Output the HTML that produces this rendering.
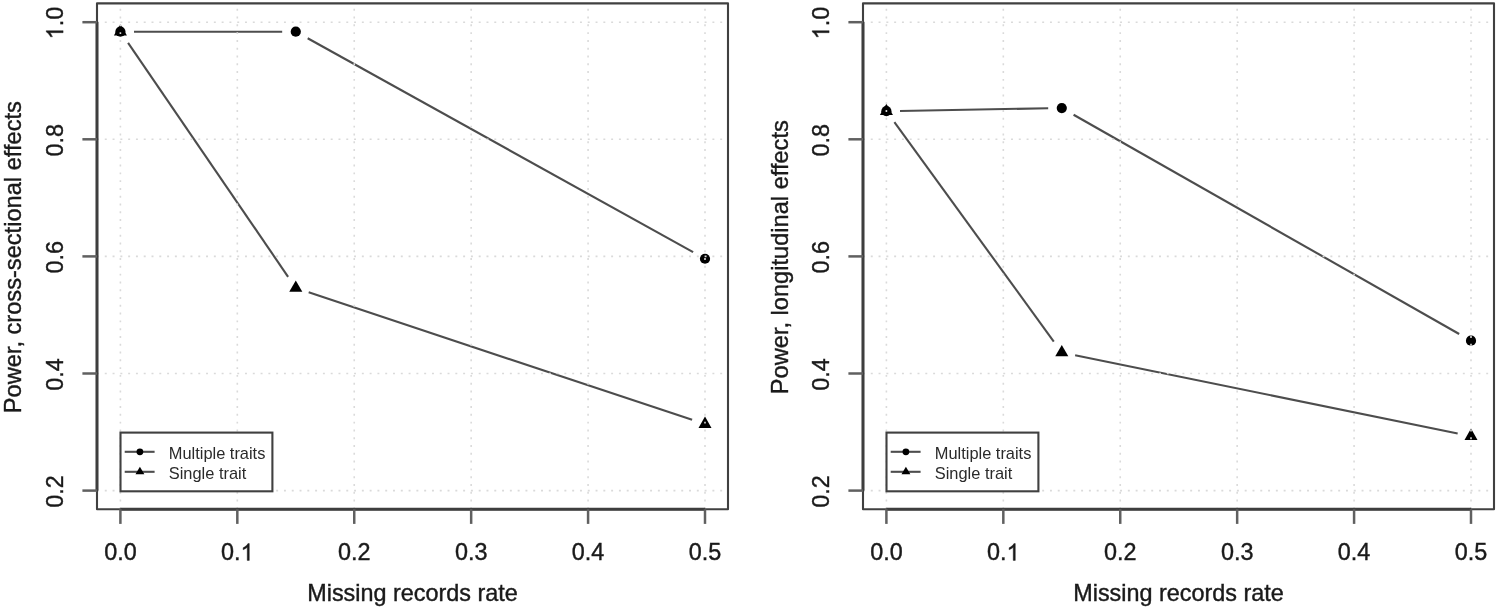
<!DOCTYPE html>
<html><head><meta charset="utf-8"><style>
html,body{margin:0;padding:0;background:#fff;width:1498px;height:610px;overflow:hidden}
svg{display:block;filter:grayscale(100%)}
text{font-family:"Liberation Sans",sans-serif;font-size:23.4px;fill:#1a1a1a;stroke:#1a1a1a;stroke-width:0.4px}
</style></head><body>
<svg width="1498" height="610" viewBox="0 0 1498 610">
<rect width="1498" height="610" fill="#fff"/>
<line x1="134.00" y1="31.69" x2="282.18" y2="31.69" stroke="#4d4d4d" stroke-width="2.1"/>
<line x1="307.67" y1="38.28" x2="693.11" y2="252.14" stroke="#4d4d4d" stroke-width="2.1"/>
<line x1="128.08" y1="42.91" x2="288.10" y2="276.79" stroke="#4d4d4d" stroke-width="2.1"/>
<line x1="308.68" y1="292.31" x2="692.10" y2="419.85" stroke="#4d4d4d" stroke-width="2.1"/>
<circle cx="120.40" cy="31.69" r="5.10" fill="#000"/>
<circle cx="295.78" cy="31.69" r="5.10" fill="#000"/>
<circle cx="705.00" cy="258.74" r="5.10" fill="#000"/>
<path d="M120.40,24.14L126.93,35.46L113.87,35.46Z" fill="#000"/>
<path d="M295.78,280.47L302.31,291.79L289.25,291.79Z" fill="#000"/>
<path d="M705.00,416.60L711.53,427.92L698.47,427.92Z" fill="#000"/>
<line x1="120.40" y1="509.30" x2="120.40" y2="3.35" stroke="#dadada" stroke-width="1.6" stroke-dasharray="1.95 5.84"/>
<line x1="237.32" y1="509.30" x2="237.32" y2="3.35" stroke="#dadada" stroke-width="1.6" stroke-dasharray="1.95 5.84"/>
<line x1="354.24" y1="509.30" x2="354.24" y2="3.35" stroke="#dadada" stroke-width="1.6" stroke-dasharray="1.95 5.84"/>
<line x1="471.16" y1="509.30" x2="471.16" y2="3.35" stroke="#dadada" stroke-width="1.6" stroke-dasharray="1.95 5.84"/>
<line x1="588.08" y1="509.30" x2="588.08" y2="3.35" stroke="#dadada" stroke-width="1.6" stroke-dasharray="1.95 5.84"/>
<line x1="705.00" y1="509.30" x2="705.00" y2="3.35" stroke="#dadada" stroke-width="1.6" stroke-dasharray="1.95 5.84"/>
<line x1="97.00" y1="490.60" x2="728.00" y2="490.60" stroke="#dadada" stroke-width="1.6" stroke-dasharray="1.95 5.84"/>
<line x1="97.00" y1="373.50" x2="728.00" y2="373.50" stroke="#dadada" stroke-width="1.6" stroke-dasharray="1.95 5.84"/>
<line x1="97.00" y1="256.40" x2="728.00" y2="256.40" stroke="#dadada" stroke-width="1.6" stroke-dasharray="1.95 5.84"/>
<line x1="97.00" y1="139.30" x2="728.00" y2="139.30" stroke="#dadada" stroke-width="1.6" stroke-dasharray="1.95 5.84"/>
<line x1="97.00" y1="22.20" x2="728.00" y2="22.20" stroke="#dadada" stroke-width="1.6" stroke-dasharray="1.95 5.84"/>
<rect x="97.00" y="3.35" width="631.00" height="505.95" fill="none" stroke-linejoin="round" stroke="#404040" stroke-width="2.1"/>
<line x1="120.40" y1="509.30" x2="705.00" y2="509.30" stroke="#3e3e3e" stroke-width="3.0"/>
<line x1="120.40" y1="509.30" x2="120.40" y2="523.90" stroke="#606060" stroke-width="2.5"/>
<g transform="translate(120.40,560.4)"><text x="-16.26" y="0">0.0</text></g>
<line x1="237.32" y1="509.30" x2="237.32" y2="523.90" stroke="#606060" stroke-width="2.5"/>
<g transform="translate(237.32,560.4)"><text x="-16.26" y="0">0.</text><path d="M763,0L583,0L583,1147Q518,1085 412,1023Q307,961 223,930L223,1104Q374,1175 487,1276Q600,1377 647,1472L763,1472Z" transform="translate(3.25,0) scale(0.01143,-0.01143)" fill="#1a1a1a" stroke="#1a1a1a" stroke-width="35.01"/></g>
<line x1="354.24" y1="509.30" x2="354.24" y2="523.90" stroke="#606060" stroke-width="2.5"/>
<g transform="translate(354.24,560.4)"><text x="-16.26" y="0">0.2</text></g>
<line x1="471.16" y1="509.30" x2="471.16" y2="523.90" stroke="#606060" stroke-width="2.5"/>
<g transform="translate(471.16,560.4)"><text x="-16.26" y="0">0.3</text></g>
<line x1="588.08" y1="509.30" x2="588.08" y2="523.90" stroke="#606060" stroke-width="2.5"/>
<g transform="translate(588.08,560.4)"><text x="-16.26" y="0">0.4</text></g>
<line x1="705.00" y1="509.30" x2="705.00" y2="523.90" stroke="#606060" stroke-width="2.5"/>
<g transform="translate(705.00,560.4)"><text x="-16.26" y="0">0.5</text></g>
<line x1="97.00" y1="490.60" x2="97.00" y2="22.20" stroke="#3e3e3e" stroke-width="3.0"/>
<line x1="97.00" y1="490.60" x2="82.40" y2="490.60" stroke="#606060" stroke-width="2.5"/>
<g transform="translate(63.10,491.50) rotate(-90)"><text x="-16.26" y="0">0.2</text></g>
<line x1="97.00" y1="373.50" x2="82.40" y2="373.50" stroke="#606060" stroke-width="2.5"/>
<g transform="translate(63.10,374.40) rotate(-90)"><text x="-16.26" y="0">0.4</text></g>
<line x1="97.00" y1="256.40" x2="82.40" y2="256.40" stroke="#606060" stroke-width="2.5"/>
<g transform="translate(63.10,257.30) rotate(-90)"><text x="-16.26" y="0">0.6</text></g>
<line x1="97.00" y1="139.30" x2="82.40" y2="139.30" stroke="#606060" stroke-width="2.5"/>
<g transform="translate(63.10,140.20) rotate(-90)"><text x="-16.26" y="0">0.8</text></g>
<line x1="97.00" y1="22.20" x2="82.40" y2="22.20" stroke="#606060" stroke-width="2.5"/>
<g transform="translate(63.10,23.10) rotate(-90)"><path d="M763,0L583,0L583,1147Q518,1085 412,1023Q307,961 223,930L223,1104Q374,1175 487,1276Q600,1377 647,1472L763,1472Z" transform="translate(-16.26,0) scale(0.01143,-0.01143)" fill="#1a1a1a" stroke="#1a1a1a" stroke-width="35.01"/><text x="-3.25" y="0">.0</text></g>
<text x="412.50" y="600.8" text-anchor="middle">Missing records rate</text>
<text transform="translate(21.20,257.22) rotate(-90)" text-anchor="middle" style="font-size:23.63px">Power, cross-sectional effects</text>
<rect x="120.5" y="432.6" width="151.90" height="58.70" fill="#fff" stroke="#404040" stroke-width="2.1"/>
<line x1="124.7" y1="451.8" x2="154.6" y2="451.8" stroke="#4d4d4d" stroke-width="2.1"/>
<circle cx="139.9" cy="451.8" r="3.4" fill="#000"/>
<text x="168.8" y="459.0" style="font-size:16.4px;stroke-width:0;fill:#2a2a2a">Multiple traits</text>
<line x1="124.7" y1="471.8" x2="154.6" y2="471.8" stroke="#4d4d4d" stroke-width="2.1"/>
<path d="M139.90,466.67L144.34,474.37L135.46,474.37Z" fill="#000"/>
<text x="168.8" y="479.0" style="font-size:16.4px;stroke-width:0;fill:#2a2a2a">Single trait</text>
<line x1="900.00" y1="110.95" x2="1048.18" y2="108.28" stroke="#4d4d4d" stroke-width="2.1"/>
<line x1="1073.60" y1="114.76" x2="1459.18" y2="333.99" stroke="#4d4d4d" stroke-width="2.1"/>
<line x1="894.39" y1="122.20" x2="1053.79" y2="341.59" stroke="#4d4d4d" stroke-width="2.1"/>
<line x1="1075.11" y1="355.32" x2="1457.67" y2="433.43" stroke="#4d4d4d" stroke-width="2.1"/>
<circle cx="886.40" cy="111.20" r="5.10" fill="#000"/>
<circle cx="1061.78" cy="108.03" r="5.10" fill="#000"/>
<circle cx="1471.00" cy="340.71" r="5.10" fill="#000"/>
<path d="M886.40,103.65L892.93,114.97L879.87,114.97Z" fill="#000"/>
<path d="M1061.78,345.06L1068.31,356.37L1055.25,356.37Z" fill="#000"/>
<path d="M1471.00,428.61L1477.53,439.92L1464.47,439.92Z" fill="#000"/>
<line x1="886.40" y1="509.30" x2="886.40" y2="3.35" stroke="#dadada" stroke-width="1.6" stroke-dasharray="1.95 5.84"/>
<line x1="1003.32" y1="509.30" x2="1003.32" y2="3.35" stroke="#dadada" stroke-width="1.6" stroke-dasharray="1.95 5.84"/>
<line x1="1120.24" y1="509.30" x2="1120.24" y2="3.35" stroke="#dadada" stroke-width="1.6" stroke-dasharray="1.95 5.84"/>
<line x1="1237.16" y1="509.30" x2="1237.16" y2="3.35" stroke="#dadada" stroke-width="1.6" stroke-dasharray="1.95 5.84"/>
<line x1="1354.08" y1="509.30" x2="1354.08" y2="3.35" stroke="#dadada" stroke-width="1.6" stroke-dasharray="1.95 5.84"/>
<line x1="1471.00" y1="509.30" x2="1471.00" y2="3.35" stroke="#dadada" stroke-width="1.6" stroke-dasharray="1.95 5.84"/>
<line x1="863.00" y1="490.60" x2="1494.00" y2="490.60" stroke="#dadada" stroke-width="1.6" stroke-dasharray="1.95 5.84"/>
<line x1="863.00" y1="373.50" x2="1494.00" y2="373.50" stroke="#dadada" stroke-width="1.6" stroke-dasharray="1.95 5.84"/>
<line x1="863.00" y1="256.40" x2="1494.00" y2="256.40" stroke="#dadada" stroke-width="1.6" stroke-dasharray="1.95 5.84"/>
<line x1="863.00" y1="139.30" x2="1494.00" y2="139.30" stroke="#dadada" stroke-width="1.6" stroke-dasharray="1.95 5.84"/>
<line x1="863.00" y1="22.20" x2="1494.00" y2="22.20" stroke="#dadada" stroke-width="1.6" stroke-dasharray="1.95 5.84"/>
<rect x="863.00" y="3.35" width="631.00" height="505.95" fill="none" stroke-linejoin="round" stroke="#404040" stroke-width="2.1"/>
<line x1="886.40" y1="509.30" x2="1471.00" y2="509.30" stroke="#3e3e3e" stroke-width="3.0"/>
<line x1="886.40" y1="509.30" x2="886.40" y2="523.90" stroke="#606060" stroke-width="2.5"/>
<g transform="translate(886.40,560.4)"><text x="-16.26" y="0">0.0</text></g>
<line x1="1003.32" y1="509.30" x2="1003.32" y2="523.90" stroke="#606060" stroke-width="2.5"/>
<g transform="translate(1003.32,560.4)"><text x="-16.26" y="0">0.</text><path d="M763,0L583,0L583,1147Q518,1085 412,1023Q307,961 223,930L223,1104Q374,1175 487,1276Q600,1377 647,1472L763,1472Z" transform="translate(3.25,0) scale(0.01143,-0.01143)" fill="#1a1a1a" stroke="#1a1a1a" stroke-width="35.01"/></g>
<line x1="1120.24" y1="509.30" x2="1120.24" y2="523.90" stroke="#606060" stroke-width="2.5"/>
<g transform="translate(1120.24,560.4)"><text x="-16.26" y="0">0.2</text></g>
<line x1="1237.16" y1="509.30" x2="1237.16" y2="523.90" stroke="#606060" stroke-width="2.5"/>
<g transform="translate(1237.16,560.4)"><text x="-16.26" y="0">0.3</text></g>
<line x1="1354.08" y1="509.30" x2="1354.08" y2="523.90" stroke="#606060" stroke-width="2.5"/>
<g transform="translate(1354.08,560.4)"><text x="-16.26" y="0">0.4</text></g>
<line x1="1471.00" y1="509.30" x2="1471.00" y2="523.90" stroke="#606060" stroke-width="2.5"/>
<g transform="translate(1471.00,560.4)"><text x="-16.26" y="0">0.5</text></g>
<line x1="863.00" y1="490.60" x2="863.00" y2="22.20" stroke="#3e3e3e" stroke-width="3.0"/>
<line x1="863.00" y1="490.60" x2="848.40" y2="490.60" stroke="#606060" stroke-width="2.5"/>
<g transform="translate(829.10,491.50) rotate(-90)"><text x="-16.26" y="0">0.2</text></g>
<line x1="863.00" y1="373.50" x2="848.40" y2="373.50" stroke="#606060" stroke-width="2.5"/>
<g transform="translate(829.10,374.40) rotate(-90)"><text x="-16.26" y="0">0.4</text></g>
<line x1="863.00" y1="256.40" x2="848.40" y2="256.40" stroke="#606060" stroke-width="2.5"/>
<g transform="translate(829.10,257.30) rotate(-90)"><text x="-16.26" y="0">0.6</text></g>
<line x1="863.00" y1="139.30" x2="848.40" y2="139.30" stroke="#606060" stroke-width="2.5"/>
<g transform="translate(829.10,140.20) rotate(-90)"><text x="-16.26" y="0">0.8</text></g>
<line x1="863.00" y1="22.20" x2="848.40" y2="22.20" stroke="#606060" stroke-width="2.5"/>
<g transform="translate(829.10,23.10) rotate(-90)"><path d="M763,0L583,0L583,1147Q518,1085 412,1023Q307,961 223,930L223,1104Q374,1175 487,1276Q600,1377 647,1472L763,1472Z" transform="translate(-16.26,0) scale(0.01143,-0.01143)" fill="#1a1a1a" stroke="#1a1a1a" stroke-width="35.01"/><text x="-3.25" y="0">.0</text></g>
<text x="1178.50" y="600.8" text-anchor="middle">Missing records rate</text>
<text transform="translate(787.80,257.22) rotate(-90)" text-anchor="middle" style="font-size:23.63px">Power, longitudinal effects</text>
<rect x="886.5" y="432.6" width="151.90" height="58.70" fill="#fff" stroke="#404040" stroke-width="2.1"/>
<line x1="890.7" y1="451.8" x2="920.6" y2="451.8" stroke="#4d4d4d" stroke-width="2.1"/>
<circle cx="905.9" cy="451.8" r="3.4" fill="#000"/>
<text x="934.8" y="459.0" style="font-size:16.4px;stroke-width:0;fill:#2a2a2a">Multiple traits</text>
<line x1="890.7" y1="471.8" x2="920.6" y2="471.8" stroke="#4d4d4d" stroke-width="2.1"/>
<path d="M905.90,466.67L910.34,474.37L901.46,474.37Z" fill="#000"/>
<text x="934.8" y="479.0" style="font-size:16.4px;stroke-width:0;fill:#2a2a2a">Single trait</text>
</svg></body></html>
